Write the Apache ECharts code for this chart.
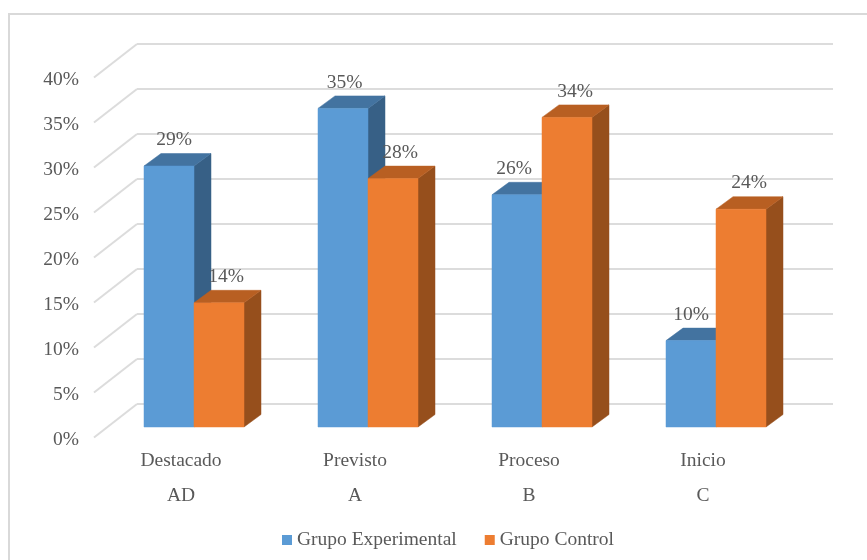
<!DOCTYPE html>
<html>
<head>
<meta charset="utf-8">
<style>html,body{margin:0;padding:0;background:#fff}#c{width:867px;height:560px}</style>
<script src="https://cdn.jsdelivr.net/npm/echarts@6/dist/echarts.min.js"></script>
</head>
<body>
<div id="c"></div>
<script>
const categories = ['Destacado\nAD', 'Previsto\nA', 'Proceso\nB', 'Inicio\nC'];
const experimental = [29.0, 35.4, 25.8, 9.6];
const control = [13.8, 27.6, 34.4, 24.2];
const tickValues = [0, 5, 10, 15, 20, 25, 30, 35, 40];

// layout of the pseudo-3D projection (pixels)
const floorShift = { x: -43, y: 33.5 };     // back wall -> front of chart
const barPlaneShift = { x: -30, y: 23 };    // back wall -> front face of bars
const depth = { x: 17, y: -12.5 };
const barWidth = 50;
const expLabelDx = [5, 1.5, -3, 0];
const ctlLabelDx = [7, 7, 8, 8];
const font = '"Liberation Serif","Times New Roman",serif';
const textColor = '#595959';
const gridColor = '#dcdcdc';
const fontSize = 19.5;

function barRenderer(side, faceColor, topColor, sideColor, labelDx) {
  return function (params, api) {
    const i = api.value(0), v = api.value(1);
    const top = api.coord([i, v]);
    const base = api.coord([i, 0]);
    const cx = top[0] + barPlaneShift.x;
    const x0 = side < 0 ? cx - barWidth : cx;
    const x1 = x0 + barWidth;
    const yT = top[1] + barPlaneShift.y;
    const yB = base[1] + barPlaneShift.y;
    const dx = depth.x, dy = depth.y;
    const poly = (pts, fill) => ({ type: 'polygon', shape: { points: pts }, style: { fill: fill, stroke: fill, lineWidth: 0.5 } });
    return {
      type: 'group',
      children: [
        poly([[x1, yT], [x1 + dx, yT + dy], [x1 + dx, yB + dy], [x1, yB]], sideColor),
        poly([[x0, yT], [x0 + dx, yT + dy], [x1 + dx, yT + dy], [x1, yT]], topColor),
        poly([[x0, yT], [x1, yT], [x1, yB], [x0, yB]], faceColor),
        {
          type: 'text',
          z2: 100,
          style: {
            text: Math.round(v) + '%',
            x: (x0 + x1) / 2 + labelDx[i],
            y: yT - 26,
            align: 'center',
            verticalAlign: 'middle',
            fill: textColor,
            font: fontSize + 'px ' + font
          }
        }
      ]
    };
  };
}

const chart = echarts.init(document.getElementById('c'), null, { renderer: 'canvas' });
chart.setOption({
  animation: false,
  backgroundColor: '#fff',
  graphic: [{
    type: 'rect',
    z: -10,
    shape: { x: 9, y: 14, width: 880, height: 570 },
    style: { fill: 'none', stroke: '#d9d9d9', lineWidth: 2 }
  }],
  legend: {
    data: ['Grupo Experimental', 'Grupo Control'],
    left: 277,
    top: 525,
    icon: 'rect',
    itemWidth: 10,
    itemHeight: 10,
    itemGap: 28,
    textStyle: { color: textColor, fontFamily: font, fontSize: fontSize }
  },
  grid: [
    { left: 137, top: 44, width: 696, height: 360 },
    { left: 94, top: 80, width: 696, height: 360 }
  ],
  xAxis: [
    { type: 'category', gridIndex: 0, data: categories, show: false },
    {
      type: 'category', gridIndex: 1, data: categories,
      axisLine: { show: false }, axisTick: { show: false },
      axisLabel: { color: textColor, fontFamily: font, fontSize: fontSize, lineHeight: 35, margin: 3, interval: 0 }
    }
  ],
  yAxis: [
    {
      type: 'value', gridIndex: 0, min: 0, max: 40, interval: 5,
      axisLine: { show: false }, axisTick: { show: false }, axisLabel: { show: false },
      splitLine: { show: true, lineStyle: { color: gridColor, width: 2 } }
    },
    {
      type: 'value', gridIndex: 1, min: 0, max: 40, interval: 5,
      axisLine: { show: false }, axisTick: { show: false }, splitLine: { show: false },
      axisLabel: { formatter: '{value}%', color: textColor, fontFamily: font, fontSize: fontSize, margin: 15 }
    }
  ],
  series: [
    {
      type: 'custom', name: 'floor', xAxisIndex: 0, yAxisIndex: 0, silent: true, clip: false,
      data: tickValues.map(v => [0, v]),
      encode: { x: 0, y: 1 },
      renderItem: function (params, api) {
        const p = api.coord([0, api.value(1)]);
        const x = params.coordSys.x;
        return {
          type: 'line',
          shape: { x1: x, y1: p[1], x2: x + floorShift.x, y2: p[1] + floorShift.y },
          style: { stroke: gridColor, lineWidth: 2 }
        };
      }
    },
    {
      type: 'custom', name: 'Grupo Experimental', xAxisIndex: 0, yAxisIndex: 0, clip: false, z: 3,
      itemStyle: { color: '#5b9bd5' },
      data: experimental.map((v, i) => [i, v]),
      encode: { x: 0, y: 1 },
      renderItem: barRenderer(-1, '#5b9bd5', '#4373a0', '#376086', expLabelDx)
    },
    {
      type: 'custom', name: 'Grupo Control', xAxisIndex: 0, yAxisIndex: 0, clip: false, z: 4,
      itemStyle: { color: '#ed7d31' },
      data: control.map((v, i) => [i, v]),
      encode: { x: 0, y: 1 },
      renderItem: barRenderer(1, '#ed7d31', '#b85f22', '#964f1c', ctlLabelDx)
    }
  ]
});
</script>
</body>
</html>
